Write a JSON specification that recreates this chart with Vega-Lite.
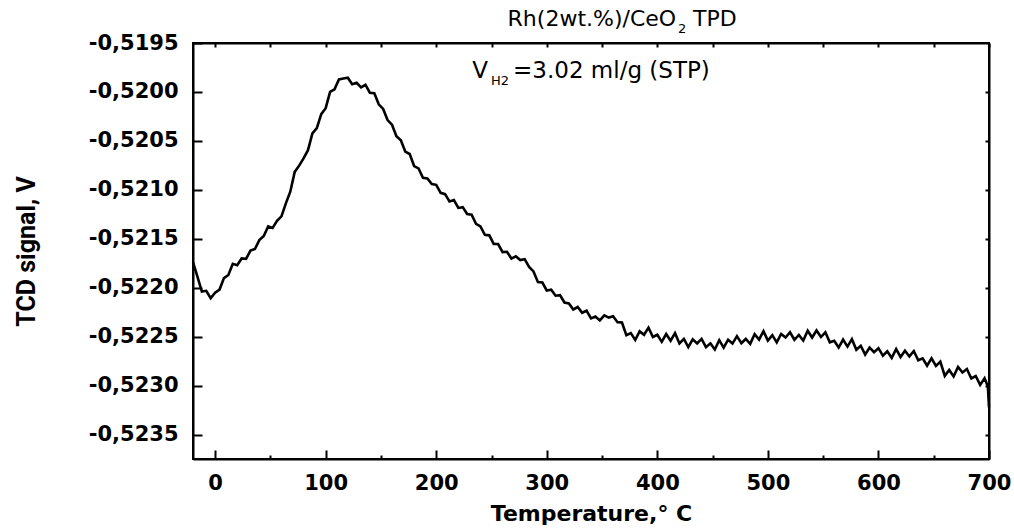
{
  "$schema": "https://vega.github.io/schema/vega-lite/v6.json",
  "width": 796,
  "height": 416,
  "autosize": {"type": "none"},
  "padding": {"left": 193, "top": 43, "right": 25, "bottom": 70},
  "background": "white",
  "config": {
    "view": {"stroke": "black", "strokeWidth": 2},
    "axis": {"grid": false, "domainColor": "black", "domainWidth": 2, "tickColor": "black", "tickWidth": 2, "labelColor": "black", "titleColor": "black"}
  },
  "datasets": {
    "tpd": [
      {"T": -20, "V": -0.521739}, {"T": -16, "V": -0.521887}, {"T": -12, "V": -0.522040}, {"T": -8, "V": -0.522032},
      {"T": -4, "V": -0.522107}, {"T": 0, "V": -0.522052}, {"T": 4, "V": -0.522019}, {"T": 8, "V": -0.521902},
      {"T": 12, "V": -0.521870}, {"T": 16, "V": -0.521756}, {"T": 20, "V": -0.521770}, {"T": 24, "V": -0.521701},
      {"T": 28, "V": -0.521705}, {"T": 32, "V": -0.521621}, {"T": 36, "V": -0.521605}, {"T": 40, "V": -0.521514},
      {"T": 44, "V": -0.521471}, {"T": 48, "V": -0.521374}, {"T": 52, "V": -0.521390}, {"T": 56, "V": -0.521317},
      {"T": 60, "V": -0.521271}, {"T": 64, "V": -0.521138}, {"T": 68, "V": -0.521019}, {"T": 72, "V": -0.520817},
      {"T": 76, "V": -0.520753}, {"T": 80, "V": -0.520679}, {"T": 84, "V": -0.520595}, {"T": 88, "V": -0.520424},
      {"T": 92, "V": -0.520369}, {"T": 96, "V": -0.520227}, {"T": 100, "V": -0.520166}, {"T": 104, "V": -0.520000},
      {"T": 108, "V": -0.519973}, {"T": 112, "V": -0.519872}, {"T": 116, "V": -0.519862}, {"T": 120, "V": -0.519855},
      {"T": 124, "V": -0.519921}, {"T": 128, "V": -0.519907}, {"T": 132, "V": -0.519954}, {"T": 136, "V": -0.519927},
      {"T": 140, "V": -0.520008}, {"T": 144, "V": -0.520014}, {"T": 148, "V": -0.520126}, {"T": 152, "V": -0.520174},
      {"T": 156, "V": -0.520287}, {"T": 160, "V": -0.520335}, {"T": 164, "V": -0.520453}, {"T": 168, "V": -0.520494},
      {"T": 172, "V": -0.520609}, {"T": 176, "V": -0.520634}, {"T": 180, "V": -0.520757}, {"T": 184, "V": -0.520781},
      {"T": 188, "V": -0.520877}, {"T": 192, "V": -0.520883}, {"T": 196, "V": -0.520941}, {"T": 200, "V": -0.520949},
      {"T": 204, "V": -0.521031}, {"T": 208, "V": -0.521044}, {"T": 212, "V": -0.521119}, {"T": 216, "V": -0.521104},
      {"T": 220, "V": -0.521185}, {"T": 224, "V": -0.521177}, {"T": 228, "V": -0.521247}, {"T": 232, "V": -0.521255},
      {"T": 236, "V": -0.521347}, {"T": 240, "V": -0.521373}, {"T": 244, "V": -0.521460}, {"T": 248, "V": -0.521465},
      {"T": 252, "V": -0.521553}, {"T": 256, "V": -0.521554}, {"T": 260, "V": -0.521636}, {"T": 264, "V": -0.521633},
      {"T": 268, "V": -0.521702}, {"T": 272, "V": -0.521679}, {"T": 276, "V": -0.521718}, {"T": 280, "V": -0.521708},
      {"T": 284, "V": -0.521788}, {"T": 288, "V": -0.521834}, {"T": 292, "V": -0.521943}, {"T": 296, "V": -0.521947},
      {"T": 300, "V": -0.522028}, {"T": 304, "V": -0.522020}, {"T": 308, "V": -0.522082}, {"T": 312, "V": -0.522077},
      {"T": 316, "V": -0.522151}, {"T": 320, "V": -0.522160}, {"T": 324, "V": -0.522222}, {"T": 328, "V": -0.522197},
      {"T": 332, "V": -0.522256}, {"T": 336, "V": -0.522234}, {"T": 340, "V": -0.522314}, {"T": 344, "V": -0.522295},
      {"T": 348, "V": -0.522334}, {"T": 352, "V": -0.522283}, {"T": 356, "V": -0.522305}, {"T": 360, "V": -0.522292},
      {"T": 364, "V": -0.522352}, {"T": 368, "V": -0.522356}, {"T": 372, "V": -0.522486}, {"T": 376, "V": -0.522464},
      {"T": 380, "V": -0.522534}, {"T": 384, "V": -0.522446}, {"T": 388, "V": -0.522481}, {"T": 392, "V": -0.522408},
      {"T": 396, "V": -0.522503}, {"T": 400, "V": -0.522481}, {"T": 404, "V": -0.522553}, {"T": 408, "V": -0.522473},
      {"T": 412, "V": -0.522542}, {"T": 416, "V": -0.522464}, {"T": 420, "V": -0.522570}, {"T": 424, "V": -0.522523},
      {"T": 428, "V": -0.522606}, {"T": 432, "V": -0.522527}, {"T": 436, "V": -0.522570}, {"T": 440, "V": -0.522523},
      {"T": 444, "V": -0.522607}, {"T": 448, "V": -0.522568}, {"T": 452, "V": -0.522631}, {"T": 456, "V": -0.522536},
      {"T": 460, "V": -0.522613}, {"T": 464, "V": -0.522531}, {"T": 468, "V": -0.522571}, {"T": 472, "V": -0.522495},
      {"T": 476, "V": -0.522568}, {"T": 480, "V": -0.522524}, {"T": 484, "V": -0.522574}, {"T": 488, "V": -0.522476},
      {"T": 492, "V": -0.522531}, {"T": 496, "V": -0.522444}, {"T": 500, "V": -0.522541}, {"T": 504, "V": -0.522485},
      {"T": 508, "V": -0.522559}, {"T": 512, "V": -0.522473}, {"T": 516, "V": -0.522509}, {"T": 520, "V": -0.522455},
      {"T": 524, "V": -0.522532}, {"T": 528, "V": -0.522483}, {"T": 532, "V": -0.522540}, {"T": 536, "V": -0.522439},
      {"T": 540, "V": -0.522509}, {"T": 544, "V": -0.522437}, {"T": 548, "V": -0.522504}, {"T": 552, "V": -0.522456},
      {"T": 556, "V": -0.522558}, {"T": 560, "V": -0.522542}, {"T": 564, "V": -0.522611}, {"T": 568, "V": -0.522530},
      {"T": 572, "V": -0.522602}, {"T": 576, "V": -0.522526}, {"T": 580, "V": -0.522634}, {"T": 584, "V": -0.522593},
      {"T": 588, "V": -0.522683}, {"T": 592, "V": -0.522612}, {"T": 596, "V": -0.522658}, {"T": 600, "V": -0.522618},
      {"T": 604, "V": -0.522695}, {"T": 608, "V": -0.522649}, {"T": 612, "V": -0.522717}, {"T": 616, "V": -0.522627},
      {"T": 620, "V": -0.522708}, {"T": 624, "V": -0.522643}, {"T": 628, "V": -0.522702}, {"T": 632, "V": -0.522647},
      {"T": 636, "V": -0.522741}, {"T": 640, "V": -0.522721}, {"T": 644, "V": -0.522796}, {"T": 648, "V": -0.522722},
      {"T": 652, "V": -0.522800}, {"T": 656, "V": -0.522755}, {"T": 660, "V": -0.522901}, {"T": 664, "V": -0.522840},
      {"T": 668, "V": -0.522907}, {"T": 672, "V": -0.522810}, {"T": 676, "V": -0.522866}, {"T": 680, "V": -0.522831},
      {"T": 684, "V": -0.522927}, {"T": 688, "V": -0.522902}, {"T": 692, "V": -0.522993}, {"T": 696, "V": -0.522926},
      {"T": 699, "V": -0.523010}, {"T": 700, "V": -0.523224}
    ]
  },
  "layer": [
    {
      "data": {"name": "tpd"},
      "mark": {"type": "line", "color": "black", "strokeWidth": 2.6, "strokeJoin": "miter"},
      "encoding": {
        "x": {
          "field": "T", "type": "quantitative",
          "scale": {"domain": [-20, 700], "nice": false, "zero": false},
          "axis": {
            "orient": "bottom", "values": [0, 100, 200, 300, 400, 500, 600, 700],
            "title": "Temperature,° C",
            "labelFont": "DejaVu Sans", "labelFontWeight": "bold", "labelFontSize": 21, "labelPadding": 22, "labelFlush": false,
            "tickSize": -9,
            "titleFont": "DejaVu Sans", "titleFontWeight": "bold", "titleFontSize": 22, "titlePadding": 10
          }
        },
        "y": {
          "field": "V", "type": "quantitative",
          "scale": {"domain": [-0.52375, -0.5195], "nice": false, "zero": false},
          "axis": {
            "orient": "left",
            "values": [-0.5235, -0.523, -0.5225, -0.522, -0.5215, -0.521, -0.5205, -0.52, -0.5195],
            "labelExpr": "'-' + replace(format(-datum.value, '.4f'), '.', ',')",
            "labelFont": "DejaVu Sans", "labelFontWeight": "bold", "labelFontSize": 21, "labelPadding": 24, "labelFlush": false,
            "tickSize": -9,
            "title": "TCD signal, V",
            "titleFont": "Roboto", "titleFontWeight": "bold", "titleFontSize": 25, "titlePadding": 49
          }
        }
      }
    },
    {
      "data": {"name": "tpd"},
      "mark": {"type": "line", "opacity": 0},
      "encoding": {
        "x": {
          "field": "T", "type": "quantitative",
          "axis": {"orient": "top", "values": [0, 50, 100, 150, 200, 250, 300, 350, 400, 450, 500, 550, 600, 650, 700], "labels": false, "tickSize": -4, "title": null}
        },
        "y": {
          "field": "V", "type": "quantitative",
          "axis": {"orient": "right", "values": [-0.5235, -0.523, -0.5225, -0.522, -0.5215, -0.521, -0.5205, -0.52], "labels": false, "tickSize": -4, "title": null}
        }
      }
    },
    {
      "data": {"name": "tpd"},
      "mark": {"type": "line", "opacity": 0},
      "encoding": {
        "x": {
          "field": "T", "type": "quantitative",
          "axis": {"orient": "bottom", "values": [50, 150, 250, 350, 450, 550, 650], "labels": false, "domain": false, "tickSize": -4, "title": null}
        },
        "y": {"field": "V", "type": "quantitative", "axis": null}
      }
    },
    {
      "data": {"values": [{"label": "Rh(2wt.%)/CeO"}]},
      "mark": {"type": "text", "align": "right", "baseline": "alphabetic", "font": "DejaVu Sans", "fontSize": 22, "color": "black"},
      "encoding": {
        "x": {"datum": 417, "type": "quantitative", "axis": null},
        "y": {"datum": -0.519326, "type": "quantitative", "axis": null},
        "text": {"field": "label"}
      }
    },
    {
      "data": {"values": [{"label": "2"}]},
      "mark": {"type": "text", "align": "left", "baseline": "alphabetic", "font": "DejaVu Sans", "fontSize": 13, "color": "black"},
      "encoding": {
        "x": {"datum": 418.8, "type": "quantitative", "axis": null},
        "y": {"datum": -0.519398, "type": "quantitative", "axis": null},
        "text": {"field": "label"}
      }
    },
    {
      "data": {"values": [{"label": "TPD"}]},
      "mark": {"type": "text", "align": "left", "baseline": "alphabetic", "font": "DejaVu Sans", "fontSize": 22, "color": "black"},
      "encoding": {
        "x": {"datum": 432.3, "type": "quantitative", "axis": null},
        "y": {"datum": -0.519326, "type": "quantitative", "axis": null},
        "text": {"field": "label"}
      }
    },
    {
      "data": {"values": [{"label": "V"}]},
      "mark": {"type": "text", "align": "left", "baseline": "alphabetic", "font": "DejaVu Sans", "fontSize": 23, "color": "black"},
      "encoding": {
        "x": {"datum": 232.5, "type": "quantitative", "axis": null},
        "y": {"datum": -0.519858, "type": "quantitative", "axis": null},
        "text": {"field": "label"}
      }
    },
    {
      "data": {"values": [{"label": "H2"}]},
      "mark": {"type": "text", "align": "left", "baseline": "alphabetic", "font": "DejaVu Sans", "fontSize": 13, "color": "black"},
      "encoding": {
        "x": {"datum": 249.6, "type": "quantitative", "axis": null},
        "y": {"datum": -0.519929, "type": "quantitative", "axis": null},
        "text": {"field": "label"}
      }
    },
    {
      "data": {"values": [{"label": "=3.02 ml/g (STP)"}]},
      "mark": {"type": "text", "align": "left", "baseline": "alphabetic", "font": "DejaVu Sans", "fontSize": 23, "color": "black"},
      "encoding": {
        "x": {"datum": 269.5, "type": "quantitative", "axis": null},
        "y": {"datum": -0.519858, "type": "quantitative", "axis": null},
        "text": {"field": "label"}
      }
    }
  ],
  "resolve": {"axis": {"x": "independent", "y": "independent"}}
}
